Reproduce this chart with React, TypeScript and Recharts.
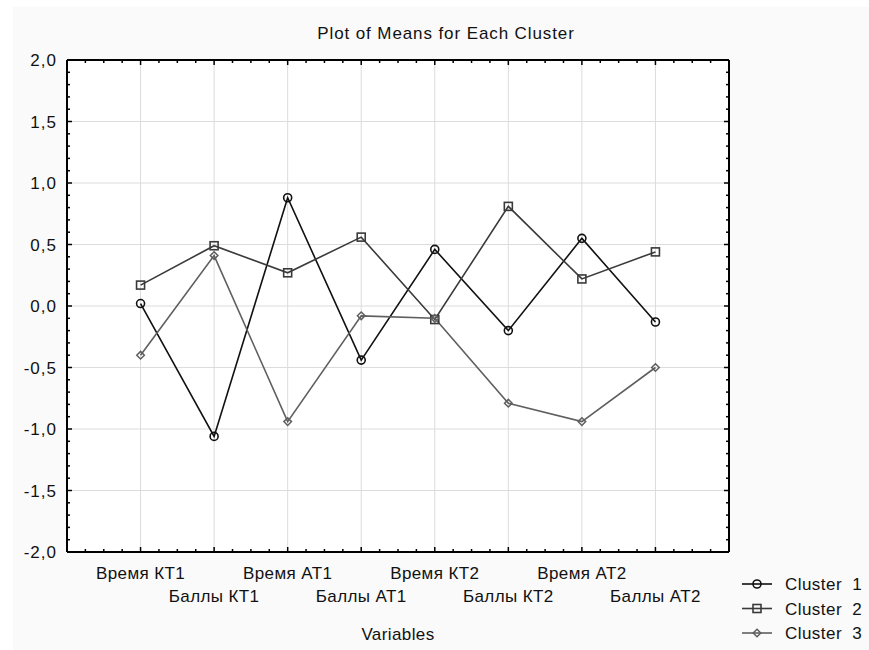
import React from 'react';
import { LineChart, Line, XAxis, YAxis, CartesianGrid, Legend } from 'recharts';

const categories = ['Время КТ1', 'Баллы КТ1', 'Время АТ1', 'Баллы АТ1', 'Время КТ2', 'Баллы КТ2', 'Время АТ2', 'Баллы АТ2'];
const cluster1 = [0.02, -1.06, 0.88, -0.44, 0.46, -0.2, 0.55, -0.13];
const cluster2 = [0.17, 0.49, 0.27, 0.56, -0.11, 0.81, 0.22, 0.44];
const cluster3 = [-0.4, 0.41, -0.94, -0.08, -0.1, -0.79, -0.94, -0.5];
const seriesNames = ['Cluster  1', 'Cluster  2', 'Cluster  3'];
const yGridValues = [-1.5, -1, -0.5, 0, 0.5, 1, 1.5];
const xGridValues = [1, 2, 3, 4, 5, 6, 7, 8];

const data = categories.map((name, i) => ({ x: i + 1, name, c1: cluster1[i], c2: cluster2[i], c3: cluster3[i] }));

const yAllTicks: number[] = [];
for (let i = 0; i <= 40; i++) yAllTicks.push(Math.round(-20 + i) / 10);
const xAllTicks: number[] = [];
for (let i = 0; i <= 36; i++) xAllTicks.push(i / 4);

const FONT = '"Liberation Sans", Arial, sans-serif';
const colors = ['#111111', '#3a3a3a', '#5f5f5f'];

const isMajorY = (v: number) => Math.abs(v * 2 - Math.round(v * 2)) < 1e-6;
const isMajorX = (v: number) => Math.abs(v - Math.round(v)) < 1e-6;
const fmt = (v: number) => v.toFixed(1).replace('.', ',').replace('-0,0', '0,0');

const XTickBottom = (props: any) => {
  const { x, y, payload } = props;
  const v = payload.value;
  const major = isMajorX(v);
  const len = major ? 5 : 3;
  const idx = Math.round(v) - 1;
  return (
    <g>
      <line x1={x} y1={y} x2={x} y2={y - len} stroke="#000" strokeWidth={1.5} />
      {major && idx >= 0 && idx < categories.length && (
        <text x={x} y={y + (idx % 2 === 0 ? 27 : 50)} textAnchor="middle" fontSize={17} letterSpacing={0.4} fontFamily={FONT} fill="#111">
          {categories[idx]}
        </text>
      )}
    </g>
  );
};

const XTickTop = (props: any) => {
  const { x, y, payload } = props;
  const len = isMajorX(payload.value) ? 5 : 3;
  return <line x1={x} y1={y} x2={x} y2={y + len} stroke="#000" strokeWidth={1.5} />;
};

const YTickLeft = (props: any) => {
  const { x, y, payload } = props;
  const v = payload.value;
  const major = isMajorY(v);
  const len = major ? 5 : 3;
  return (
    <g>
      <line x1={x} y1={y} x2={x + len} y2={y} stroke="#000" strokeWidth={1.5} />
      {major && (
        <text x={x - 10} y={y} dy="0.36em" textAnchor="end" fontSize={17} letterSpacing={1} fontFamily={FONT} fill="#111">
          {fmt(v)}
        </text>
      )}
    </g>
  );
};

const YTickRight = (props: any) => {
  const { x, y, payload } = props;
  const len = isMajorY(payload.value) ? 5 : 3;
  return <line x1={x} y1={y} x2={x - len} y2={y} stroke="#000" strokeWidth={1.5} />;
};

const markerShape = (kind: number, cx: number, cy: number, color: string, key?: any) => {
  if (kind === 0) return <circle key={key} cx={cx} cy={cy} r={4} fill="none" stroke={color} strokeWidth={1.6} />;
  if (kind === 1) return <rect key={key} x={cx - 4} y={cy - 4} width={8} height={8} fill="none" stroke={color} strokeWidth={1.6} />;
  return <path key={key} d={`M${cx},${cy - 3.8}L${cx + 3.8},${cy}L${cx},${cy + 3.8}L${cx - 3.8},${cy}Z`} fill="none" stroke={color} strokeWidth={1.5} />;
};

const makeDot = (kind: number) => (props: any) => markerShape(kind, props.cx, props.cy, colors[kind], props.key ?? `${kind}-${props.index}`);

const LegendContent = () => (
  <svg width={134} height={76} style={{ overflow: 'visible', display: 'block' }}>
    {seriesNames.map((n, i) => {
      const cy = 12 + i * 24.5;
      return (
        <g key={n}>
          <line x1={7} y1={cy} x2={37} y2={cy} stroke={colors[i]} strokeWidth={1.6} />
          {markerShape(i, 22, cy, colors[i])}
          <text x={50} y={cy} dy="0.36em" fontSize={17} letterSpacing={0.45} fontFamily={FONT} fill="#111" style={{ whiteSpace: 'pre' }}>
            {n}
          </text>
        </g>
      );
    })}
  </svg>
);

export default function App() {
  return (
    <div style={{ position: 'absolute', left: 0, top: 0, width: 869, height: 650, background: '#fff', overflow: 'hidden' }}>
      <div style={{ position: 'absolute', left: 13, top: 7, width: 856, height: 643, background: '#fafafa' }} />
      <svg style={{ position: 'absolute', left: 0, top: 0 }} width={869} height={60}>
        <text x={446} y={39} textAnchor="middle" fontSize={17} letterSpacing={0.9} fontFamily={FONT} fill="#111">
          Plot of Means for Each Cluster
        </text>
      </svg>
      <div style={{ position: 'absolute', left: 0, top: 0 }}>
        <LineChart width={869} height={650} data={data} margin={{ top: 59, right: 139, bottom: 0, left: 0 }}>
          <CartesianGrid
            fill="#ffffff"
            stroke="#dcdcdc"
            strokeWidth={1}
            horizontalValues={yGridValues}
            verticalValues={xGridValues}
          />
          <XAxis
            dataKey="x"
            type="number"
            domain={[0, 9]}
            allowDataOverflow
            ticks={xAllTicks}
            interval={0}
            height={98}
            tickSize={0}
            tickMargin={0}
            tickLine={false}
            axisLine={{ stroke: '#000', strokeWidth: 2 }}
            tick={<XTickBottom />}
            label={{ value: 'Variables', position: 'insideBottom', offset: 10, fontSize: 17, fontFamily: FONT, fill: '#111', letterSpacing: 0.4 }}
          />
          <XAxis
            xAxisId="top"
            dataKey="x"
            orientation="top"
            type="number"
            domain={[0, 9]}
            allowDataOverflow
            ticks={xAllTicks}
            interval={0}
            height={1}
            tickSize={0}
            tickMargin={0}
            tickLine={false}
            axisLine={{ stroke: '#000', strokeWidth: 2 }}
            tick={<XTickTop />}
          />
          <YAxis
            type="number"
            domain={[-2, 2]}
            allowDataOverflow
            ticks={yAllTicks}
            interval={0}
            width={67}
            tickSize={0}
            tickMargin={0}
            tickLine={false}
            axisLine={{ stroke: '#000', strokeWidth: 2 }}
            tick={<YTickLeft />}
          />
          <YAxis
            yAxisId="right"
            orientation="right"
            type="number"
            domain={[-2, 2]}
            allowDataOverflow
            ticks={yAllTicks}
            interval={0}
            width={1}
            tickSize={0}
            tickMargin={0}
            tickLine={false}
            axisLine={{ stroke: '#000', strokeWidth: 2 }}
            tick={<YTickRight />}
          />
          <Legend
            layout="horizontal"
            verticalAlign="middle"
            align="center"
            wrapperStyle={{ position: 'absolute', left: 735, top: 572, width: 134, height: 76 }}
            content={<LegendContent />}
          />
          <Line dataKey="c1" name={seriesNames[0]} stroke={colors[0]} strokeWidth={1.6} dot={makeDot(0)} activeDot={false} isAnimationActive={false} />
          <Line dataKey="c2" name={seriesNames[1]} stroke={colors[1]} strokeWidth={1.6} dot={makeDot(1)} activeDot={false} isAnimationActive={false} />
          <Line dataKey="c3" name={seriesNames[2]} stroke={colors[2]} strokeWidth={1.6} dot={makeDot(2)} activeDot={false} isAnimationActive={false} />
        </LineChart>
      </div>
    </div>
  );
}
